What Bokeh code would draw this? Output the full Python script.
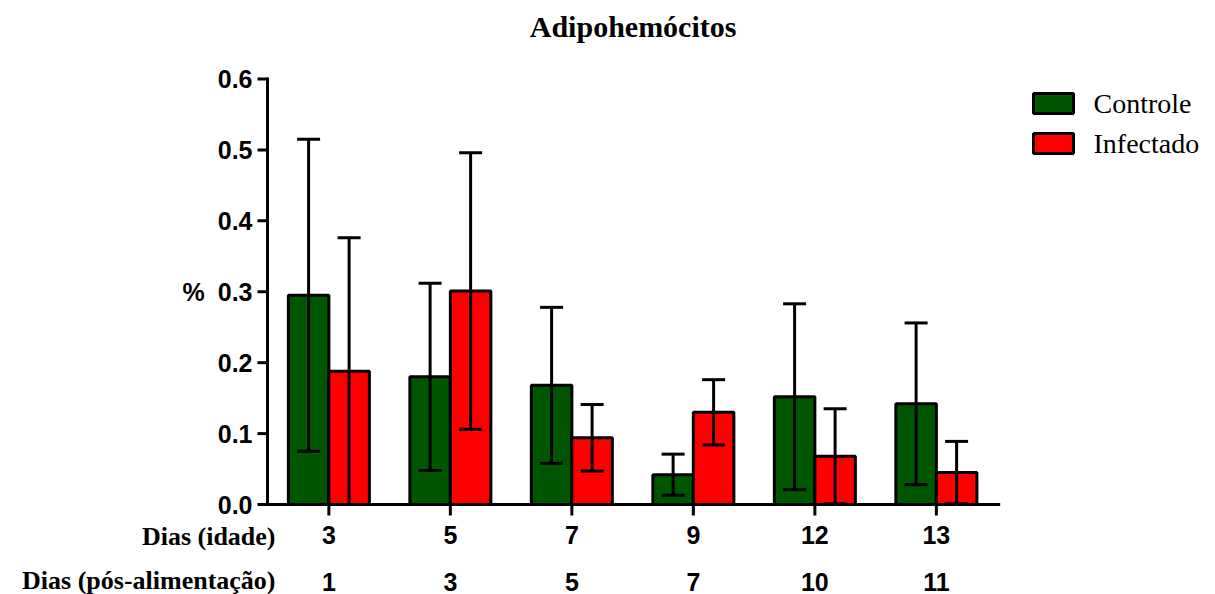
from bokeh.plotting import figure
from bokeh.models import Range1d, Whisker, TeeHead, ColumnDataSource
from bokeh.core.properties import value
from bokeh.embed import file_html
from bokeh.resources import INLINE

# Age (days) and days after feeding for each group
idade = ["3", "5", "7", "9", "12", "13"]
pos_alimentacao = ["1", "3", "5", "7", "10", "11"]
row_titles = ["Dias (idade)", "Dias (pós-alimentação)"]

# Mean and standard deviation of adipohemocytes (%)
controle_media = [0.295, 0.180, 0.168, 0.042, 0.152, 0.142]
controle_dp = [0.220, 0.132, 0.110, 0.029, 0.131, 0.114]
infectado_media = [0.188, 0.301, 0.094, 0.130, 0.068, 0.045]
infectado_dp = [0.188, 0.195, 0.047, 0.046, 0.067, 0.044]
series = ["Controle", "Infectado"]

y_ticks = [0.0, 0.1, 0.2, 0.3, 0.4, 0.5, 0.6]
y_tick_labels = ["0.0", "0.1", "0.2", "0.3", "0.4", "0.5", "0.6"]

VERDE = "#005500"
VERMELHO = "#ff0000"
SANS = value("Liberation Sans")
SERIF = value("Liberation Serif")

W, H = 1215, 594
grupos = list(range(len(idade)))
bar_w = 1 / 3

# Axis extent in data units
X_AXIS = (-0.505, 5.513)
Y_AXIS = (0.0, 0.6)

# Canvas geometry: pixels per data unit and where the axes sit
PX_PER_X = 121.5
PX_PER_Y = 709.17
AXIS_LEFT_PX = 267.0
AXIS_BOTTOM_PX = 504.0

x_start = X_AXIS[0] - AXIS_LEFT_PX / PX_PER_X
y_start = Y_AXIS[0] - (H - AXIS_BOTTOM_PX) / PX_PER_Y
x_range = Range1d(x_start, x_start + W / PX_PER_X)
y_range = Range1d(y_start, y_start + H / PX_PER_Y)


def xd(px):
    """Horizontal canvas pixel -> data x."""
    return x_start + px / PX_PER_X


def yd(py):
    """Vertical canvas pixel (from top) -> data y."""
    return y_start + (H - py) / PX_PER_Y


p = figure(width=W, height=H, x_range=x_range, y_range=y_range,
           output_backend="svg", toolbar_location=None,
           x_axis_location=None, y_axis_location=None, min_border=0)
p.outline_line_color = None
p.background_fill_color = "white"
p.border_fill_color = "white"
p.grid.visible = False

# Bars
src_c = ColumnDataSource(dict(
    x=[g - bar_w / 2 for g in grupos], top=controle_media,
    upper=[m + s for m, s in zip(controle_media, controle_dp)],
    lower=[max(0.0, m - s) for m, s in zip(controle_media, controle_dp)]))
src_i = ColumnDataSource(dict(
    x=[g + bar_w / 2 for g in grupos], top=infectado_media,
    upper=[m + s for m, s in zip(infectado_media, infectado_dp)],
    lower=[max(0.0, m - s) for m, s in zip(infectado_media, infectado_dp)]))

p.vbar(x="x", top="top", bottom=0, width=bar_w, source=src_c,
       fill_color=VERDE, line_color="black", line_width=3)
p.vbar(x="x", top="top", bottom=0, width=bar_w, source=src_i,
       fill_color=VERMELHO, line_color="black", line_width=3)

# Error bars (mean ± SD), drawn over the bars
for src in (src_c, src_i):
    p.add_layout(Whisker(base="x", upper="upper", lower="lower", source=src,
                         level="overlay", line_color="black", line_width=3,
                         upper_head=TeeHead(size=23, line_width=3, line_color="black"),
                         lower_head=TeeHead(size=23, line_width=3, line_color="black")))

# Y axis: line, outward ticks and labels
tick_len_y = 10 / PX_PER_X
p.segment(x0=[X_AXIS[0]], y0=[Y_AXIS[0]], x1=[X_AXIS[0]], y1=[Y_AXIS[1]],
          line_color="black", line_width=3, line_cap="square")
p.segment(x0=[X_AXIS[0]] * len(y_ticks), y0=y_ticks,
          x1=[X_AXIS[0] - tick_len_y] * len(y_ticks), y1=y_ticks,
          line_color="black", line_width=3)
p.text(x=[X_AXIS[0]] * len(y_ticks), y=y_ticks, text=y_tick_labels,
       x_offset=-15, text_align="right", text_baseline="middle",
       text_font=SANS, text_font_style="bold", text_font_size="25px",
       text_color="black")
p.text(x=[X_AXIS[0]], y=[(Y_AXIS[0] + Y_AXIS[1]) / 2], text=["%"],
       x_offset=-74, text_align="center", text_baseline="middle",
       text_font=SANS, text_font_style="bold", text_font_size="25px",
       text_color="black")

# X axis: line, outward ticks and two rows of labels
tick_len_x = 11 / PX_PER_Y
p.segment(x0=[X_AXIS[0]], y0=[Y_AXIS[0]], x1=[X_AXIS[1]], y1=[Y_AXIS[0]],
          line_color="black", line_width=3, line_cap="square")
p.segment(x0=grupos, y0=[Y_AXIS[0]] * len(grupos),
          x1=grupos, y1=[Y_AXIS[0] - tick_len_x] * len(grupos),
          line_color="black", line_width=3)
for labels, dy in ((idade, 30), (pos_alimentacao, 77)):
    p.text(x=grupos, y=[Y_AXIS[0]] * len(grupos), text=labels,
           y_offset=dy, text_align="center", text_baseline="middle",
           text_font=SANS, text_font_style="bold", text_font_size="25px",
           text_color="black")
p.text(x=[X_AXIS[0]] * 2, y=[Y_AXIS[0]] * 2, text=row_titles,
       x_offset=8, y_offset=[32, 76], text_align="right",
       text_baseline="middle", text_font=SERIF, text_font_style="bold",
       text_font_size="26px", text_color="black")

# Title
p.text(x=[(X_AXIS[0] + X_AXIS[1]) / 2], y=[Y_AXIS[1]], text=["Adipohemócitos"],
       y_offset=-52, text_align="center", text_baseline="middle",
       text_font=SERIF, text_font_style="bold", text_font_size="30px",
       text_color="black")

# Legend: swatches and names
leg_y = [yd(103), yd(143)]
p.rect(x=[xd(1053)] * 2, y=leg_y, width=40, height=20,
       width_units="screen", height_units="screen",
       fill_color=[VERDE, VERMELHO], line_color="black", line_width=3)
p.text(x=[xd(1093)] * 2, y=leg_y, text=series,
       text_align="left", text_baseline="middle",
       text_font=SERIF, text_font_size="28px", text_color="black")

open("out.html", "w").write(file_html(p, INLINE))
